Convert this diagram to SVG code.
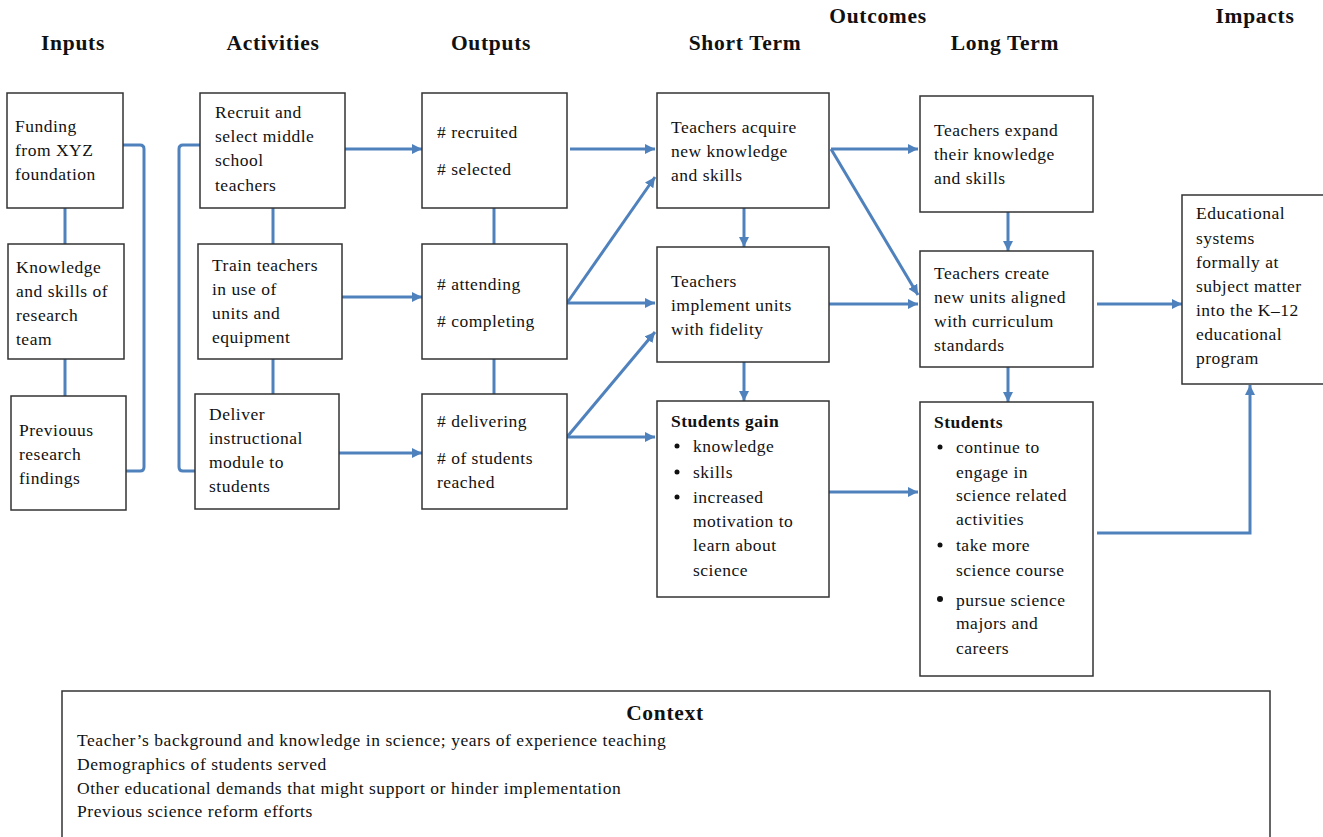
<svg xmlns="http://www.w3.org/2000/svg" width="1323" height="837" viewBox="0 0 1323 837">
<defs>
<marker id="arr" viewBox="0 0 10 10" refX="10" refY="5" markerWidth="3.4" markerHeight="3.4" orient="auto" markerUnits="strokeWidth">
<path d="M0,0 L10,5 L0,10 z" fill="#4f81bd"/>
</marker>
<style>
text{font-family:"Liberation Serif","Times New Roman",serif;fill:#111;}
.h{font-size:21.5px;font-weight:bold;text-anchor:middle;letter-spacing:0.7px;}
.t{font-size:17.5px;letter-spacing:0.5px;}
.b{font-weight:bold;}
.c{font-size:17.5px;letter-spacing:0.55px;}
rect.box{fill:#fff;stroke:#333;stroke-width:1.5;}
.ln{fill:none;stroke:#4f81bd;stroke-width:3;}
.ar{fill:none;stroke:#4f81bd;stroke-width:3;marker-end:url(#arr);}
</style>
</defs>
<rect width="1323" height="837" fill="#fff"/>

<g id="headings">
<text class="h" x="73" y="50">Inputs</text>
<text class="h" x="273" y="50">Activities</text>
<text class="h" x="491" y="50">Outputs</text>
<text class="h" x="745" y="50">Short Term</text>
<text class="h" x="878" y="23">Outcomes</text>
<text class="h" x="1005" y="50">Long Term</text>
<text class="h" x="1255" y="23">Impacts</text>
</g>

<g id="connectors">
<line class="ln" x1="65" y1="208" x2="65" y2="244"/>
<line class="ln" x1="65" y1="359" x2="65" y2="396"/>
<path class="ln" d="M123,145 H140 Q144,145 144,149 V467 Q144,471 140,471 H126"/>
<path class="ln" d="M200,145 H183 Q179,145 179,149 V467 Q179,471 183,471 H195"/>
<line class="ln" x1="273" y1="208" x2="273" y2="244"/>
<line class="ln" x1="273" y1="359" x2="273" y2="394"/>
<line class="ln" x1="494" y1="208" x2="494" y2="244"/>
<line class="ln" x1="494" y1="359" x2="494" y2="394"/>
<line class="ar" x1="345" y1="149" x2="422" y2="149"/>
<line class="ar" x1="342" y1="297" x2="422" y2="297"/>
<line class="ar" x1="339" y1="453" x2="422" y2="453"/>
<line class="ar" x1="570" y1="149" x2="655" y2="149"/>
<line class="ar" x1="567" y1="303" x2="655" y2="177"/>
<line class="ar" x1="567" y1="303" x2="655" y2="303"/>
<line class="ar" x1="567" y1="437" x2="655" y2="332"/>
<line class="ar" x1="567" y1="437" x2="655" y2="437"/>
<line class="ar" x1="744" y1="208" x2="744" y2="247"/>
<line class="ar" x1="744" y1="362" x2="744" y2="401"/>
<line class="ar" x1="831" y1="149" x2="918" y2="149"/>
<line class="ar" x1="831" y1="149" x2="918" y2="295"/>
<line class="ar" x1="829" y1="304" x2="918" y2="304"/>
<line class="ar" x1="829" y1="492" x2="918" y2="492"/>
<line class="ar" x1="1008" y1="212" x2="1008" y2="251"/>
<line class="ar" x1="1008" y1="367" x2="1008" y2="402"/>
<line class="ar" x1="1097" y1="304" x2="1182" y2="304"/>
<path class="ar" d="M1097,533 H1250 V385"/>
</g>

<g id="in1"><rect class="box" x="7" y="93" width="116" height="115"/>
<text class="t" x="15" y="132">Funding</text><text class="t" x="15" y="156">from XYZ</text><text class="t" x="15" y="180">foundation</text></g>
<g id="in2"><rect class="box" x="8" y="244" width="116" height="115"/>
<text class="t" x="16" y="273">Knowledge</text><text class="t" x="16" y="297">and skills of</text><text class="t" x="16" y="321">research</text><text class="t" x="16" y="345">team</text></g>
<g id="in3"><rect class="box" x="11" y="396" width="115" height="114"/>
<text class="t" x="19" y="436">Previouus</text><text class="t" x="19" y="460">research</text><text class="t" x="19" y="484">findings</text></g>

<g id="act1"><rect class="box" x="200" y="93" width="145" height="115"/>
<text class="t" x="215" y="118">Recruit and</text><text class="t" x="215" y="142">select middle</text><text class="t" x="215" y="166">school</text><text class="t" x="215" y="191">teachers</text></g>
<g id="act2"><rect class="box" x="198" y="244" width="144" height="115"/>
<text class="t" x="212" y="271">Train teachers</text><text class="t" x="212" y="295">in use of</text><text class="t" x="212" y="319">units and</text><text class="t" x="212" y="343">equipment</text></g>
<g id="act3"><rect class="box" x="195" y="394" width="144" height="115"/>
<text class="t" x="209" y="420">Deliver</text><text class="t" x="209" y="444">instructional</text><text class="t" x="209" y="468">module to</text><text class="t" x="209" y="492">students</text></g>

<g id="out1"><rect class="box" x="422" y="93" width="145" height="115"/>
<text class="t" x="437" y="138"># recruited</text><text class="t" x="437" y="175"># selected</text></g>
<g id="out2"><rect class="box" x="422" y="244" width="145" height="115"/>
<text class="t" x="437" y="290"># attending</text><text class="t" x="437" y="327"># completing</text></g>
<g id="out3"><rect class="box" x="422" y="394" width="145" height="115"/>
<text class="t" x="437" y="427"># delivering</text><text class="t" x="437" y="464"># of students</text><text class="t" x="437" y="488">reached</text></g>

<g id="st1"><rect class="box" x="657" y="93" width="172" height="115"/>
<text class="t" x="671" y="133">Teachers acquire</text><text class="t" x="671" y="157">new knowledge</text><text class="t" x="671" y="181">and skills</text></g>
<g id="st2"><rect class="box" x="657" y="247" width="172" height="115"/>
<text class="t" x="671" y="287">Teachers</text><text class="t" x="671" y="311">implement units</text><text class="t" x="671" y="335">with fidelity</text></g>
<g id="st3"><rect class="box" x="657" y="401" width="172" height="196"/>
<text class="t b" x="671" y="427">Students gain</text>
<circle cx="677" cy="446" r="2.5" fill="#111"/><text class="t" x="693" y="452">knowledge</text>
<circle cx="677" cy="472" r="2.5" fill="#111"/><text class="t" x="693" y="478">skills</text>
<circle cx="677" cy="497" r="2.5" fill="#111"/><text class="t" x="693" y="503">increased</text>
<text class="t" x="693" y="527">motivation  to</text><text class="t" x="693" y="551">learn about</text><text class="t" x="693" y="576">science</text></g>

<g id="lt1"><rect class="box" x="920" y="96" width="173" height="116"/>
<text class="t" x="934" y="136">Teachers expand</text><text class="t" x="934" y="160">their knowledge</text><text class="t" x="934" y="184">and skills</text></g>
<g id="lt2"><rect class="box" x="920" y="251" width="173" height="116"/>
<text class="t" x="934" y="279">Teachers create</text><text class="t" x="934" y="303">new units aligned</text><text class="t" x="934" y="327">with curriculum</text><text class="t" x="934" y="351">standards</text></g>
<g id="lt3"><rect class="box" x="920" y="402" width="173" height="274"/>
<text class="t b" x="934" y="428">Students</text>
<circle cx="940" cy="447" r="2.5" fill="#111"/><text class="t" x="956" y="453">continue to</text>
<text class="t" x="956" y="478">engage in</text><text class="t" x="956" y="501">science related</text><text class="t" x="956" y="525">activities</text>
<circle cx="940" cy="545" r="2.5" fill="#111"/><text class="t" x="956" y="551">take more</text>
<text class="t" x="956" y="576">science course</text>
<circle cx="940" cy="599" r="3" fill="#111"/><text class="t" x="956" y="606">pursue science</text>
<text class="t" x="956" y="629">majors and</text><text class="t" x="956" y="654">careers</text></g>

<g id="impact"><rect class="box" x="1182" y="195" width="145" height="189"/>
<text class="t" x="1196" y="219">Educational</text><text class="t" x="1196" y="244">systems</text><text class="t" x="1196" y="268">formally at</text><text class="t" x="1196" y="292">subject matter</text><text class="t" x="1196" y="316">into the K–12</text><text class="t" x="1196" y="340">educational</text><text class="t" x="1196" y="364">program</text></g>

<g id="context"><rect class="box" x="62" y="691" width="1208" height="160"/>
<text class="h" x="665" y="720">Context</text>
<text class="c" x="77" y="746">Teacher’s background and knowledge in science; years of experience teaching</text>
<text class="c" x="77" y="770">Demographics of students served</text>
<text class="c" x="77" y="794">Other educational demands that might support or hinder implementation</text>
<text class="c" x="77" y="817">Previous science reform efforts</text></g>
</svg>
